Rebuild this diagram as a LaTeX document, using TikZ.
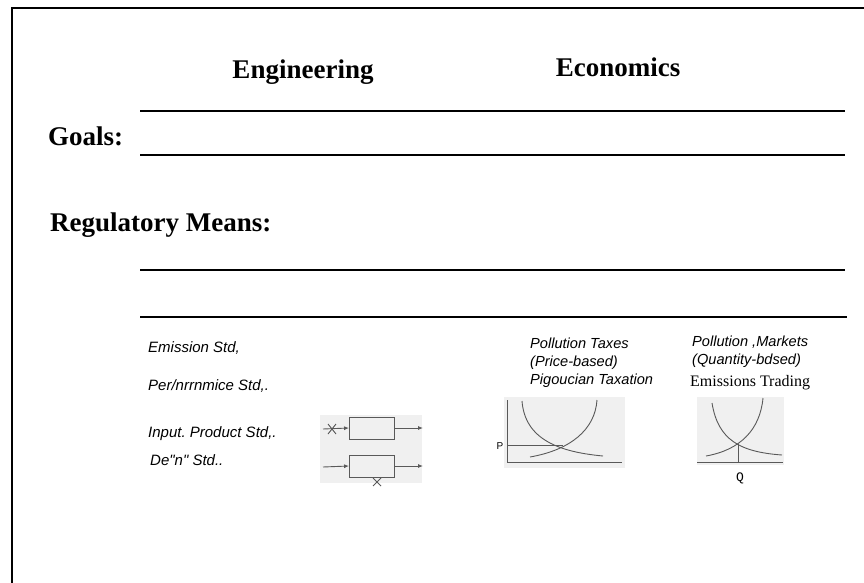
\documentclass[tikz,border=0pt]{standalone}
\usepackage{fontspec}
\setmainfont{Liberation Serif}
\setsansfont{Liberation Sans}
\setmonofont{Liberation Mono}
\newfontfamily\labfont{Liberation Sans}
\usetikzlibrary{arrows.meta}
\begin{document}
\begin{tikzpicture}[x=1pt,y=-1pt,
  head/.style={font=\fontsize{27}{32}\selectfont\bfseries, inner sep=0, anchor=base},
  lab/.style={font=\fontsize{15}{18}\selectfont\labfont\itshape, anchor=base west, inner sep=0},
  elab/.style={font=\fontsize{14.6}{18}\selectfont\labfont\itshape, anchor=base west, inner sep=0},
  seriflab/.style={font=\fontsize{16}{19}\selectfont, anchor=base west, inner sep=0},
  rule/.style={line width=1.4pt},
  scan/.style={fill=black!6, draw=none},
  sk/.style={draw=black!65, line width=0.9pt},
  arr/.style={sk, -{Latex[length=5pt,width=4pt]}},
  blk/.style={sk, minimum width=45pt, minimum height=22pt, inner sep=0}]
\useasboundingbox (0,0) rectangle (864,583);
\draw[line width=1.2pt] (12,583) -- (12,8) -- (864,8);
% headings
\node[head] (eng) at (303,79) {Engineering};
\node[head] (eco) at (618,77) {Economics};
\node[head, anchor=base west] (goals) at (48,146) {Goals:};
\node[head, anchor=base west] (reg) at (50,231) {Regulatory Means:};
% rules
\draw[rule] (140,111) -- (845,111);
\draw[rule] (140,155) -- (845,155);
\draw[rule] (140,270) -- (845,270);
\draw[rule] (140,317) -- (847,317);
% engineering labels
\node[lab] (e1) at (148,352) {Emission Std,};
\node[lab] (e2) at (148,390) {Per/nrrnmice Std,.};
\node[lab] (e3) at (148,437) {Input.\ Product Std,.};
\node[lab] (e4) at (150,465) {De"n" Std..};
% block diagram
\fill[scan] (320,415) rectangle (422,483);
\node[blk] (b1) at (372,428) {};
\node[blk] (b2) at (372,466) {};
\coordinate (i1) at (323,429);
\coordinate (o1) at (423,428);
\coordinate (i2) at (323,467);
\coordinate (o2) at (423,466);
\draw[arr] (i1) -- (b1.west);
\draw[arr] (b1.east) -- (o1);
\draw[arr] (i2) -- (b2.west);
\draw[arr] (b2.east) -- (o2);
\draw[sk] (328,424) -- (336,434) (336,424) -- (328,434);
\draw[sk] (373,478) -- (381,486) (381,478) -- (373,486);
% economics labels
\node[elab] (t1) at (530,348) {Pollution Taxes};
\node[elab] (t2) at (530,366) {(Price-based)};
\node[elab] (t3) at (530,384) {Pigoucian Taxation};
\node[elab] (m1) at (692,346) {Pollution ,Markets};
\node[elab] (m2) at (692,364) {(Quantity-bdsed)};
\node[seriflab] (m3) at (690,386) {Emissions Trading};
% graph 1
\fill[scan] (504,397) rectangle (625,468);
\draw[sk] (507,400) -- (507,462) -- (622,462);
\node[font=\fontsize{10}{11}\selectfont\labfont, inner sep=0] (p) at (500,446) {P};
\draw[sk] (507,445) -- (563,445);
\draw[sk] (522,401) .. controls (525,440) and (560,452) .. (603,456);
\draw[sk] (530,457) .. controls (570,450) and (595,430) .. (597,400);
% graph 2
\fill[scan] (697,397) rectangle (784,465);
\draw[sk] (697,462) -- (783,462);
\draw[sk] (712,403) .. controls (718,440) and (740,452) .. (782,455);
\draw[sk] (706,456) .. controls (740,450) and (760,430) .. (763,398);
\draw[sk] (738,444) -- (738,462);
\node[font=\fontsize{13}{15}\selectfont\ttfamily, inner sep=0] (q) at (740,478) {Q};
\end{tikzpicture}
\end{document}
